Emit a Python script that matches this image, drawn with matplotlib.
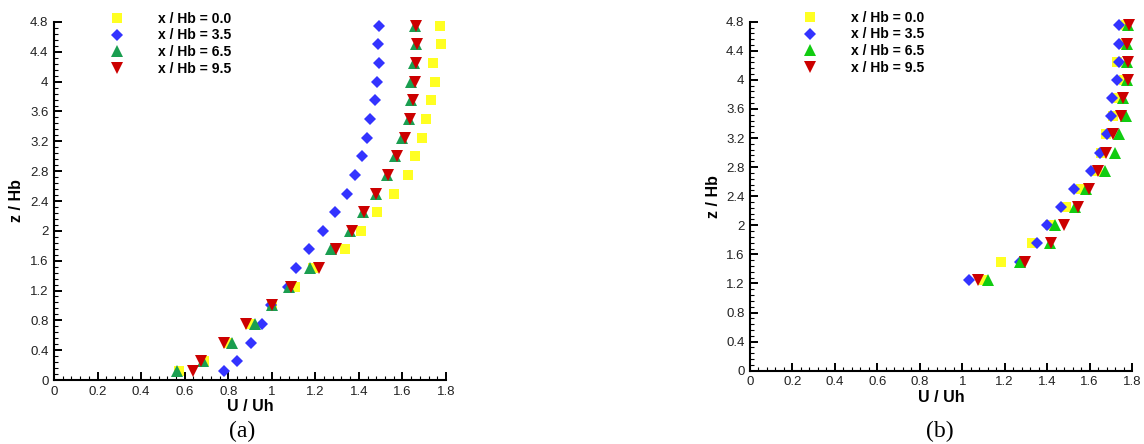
import matplotlib
matplotlib.use('Agg')
import matplotlib.pyplot as plt
from matplotlib.ticker import MultipleLocator, FormatStrFormatter

plt.rcParams['font.family'] = ['Liberation Sans', 'DejaVu Sans']

# Data
labels = ['x / Hb = 0.0', 'x / Hb = 3.5', 'x / Hb = 6.5', 'x / Hb = 9.5']

z_a = [0.125, 0.25, 0.5, 0.75, 1.0, 1.25, 1.5, 1.75, 2.0, 2.25,
       2.5, 2.75, 3.0, 3.25, 3.5, 3.75, 4.0, 4.25, 4.5, 4.75]
u_a_00 = [0.576, 0.689, 0.80, 0.90, 1.0, 1.105, 1.187, 1.335, 1.409, 1.482,
          1.562, 1.626, 1.657, 1.690, 1.707, 1.730, 1.749, 1.739, 1.776, 1.773]
u_a_35 = [0.781, 0.842, 0.903, 0.955, 0.997, 1.074, 1.109, 1.169, 1.236, 1.291,
          1.346, 1.384, 1.415, 1.435, 1.453, 1.476, 1.484, 1.491, 1.490, 1.494]
u_a_65 = [0.564, 0.686, 0.819, 0.922, 1.0, 1.081, 1.175, 1.272, 1.357, 1.421,
          1.479, 1.528, 1.566, 1.600, 1.631, 1.641, 1.638, 1.651, 1.662, 1.658]
u_a_95 = [0.637, 0.675, 0.781, 0.882, 1.0, 1.090, 1.219, 1.295, 1.367, 1.422,
          1.479, 1.534, 1.574, 1.611, 1.634, 1.648, 1.658, 1.663, 1.667, 1.663]

z_b = [1.25, 1.5, 1.75, 2.0, 2.25, 2.5, 2.75, 3.0, 3.25, 3.5,
       3.75, 4.0, 4.25, 4.5, 4.75]
u_b_00 = [1.100, 1.184, 1.327, 1.415, 1.489, 1.558, 1.635, 1.652, 1.677, 1.712,
          1.728, 1.760, 1.728, 1.765, 1.770]
u_b_35 = [1.032, 1.272, 1.351, 1.401, 1.466, 1.527, 1.609, 1.649, 1.684, 1.700,
          1.706, 1.730, 1.740, 1.739, 1.740]
u_b_65 = [1.120, 1.270, 1.414, 1.436, 1.532, 1.582, 1.671, 1.719, 1.740, 1.772,
          1.757, 1.778, 1.778, 1.775, 1.780]
u_b_95 = [1.076, 1.298, 1.417, 1.480, 1.544, 1.598, 1.642, 1.676, 1.712, 1.747,
          1.756, 1.783, 1.783, 1.778, 1.786]

W, H = 1144, 444
fig = plt.figure(figsize=(W / 100, H / 100), dpi=100)

def px_axes(x0, x1, y0, y1):
    # y0 top, y1 bottom in pixel rows
    return fig.add_axes([x0 / W, (H - y1) / H, (x1 - x0) / W, (y1 - y0) / H])

ax_a = px_axes(54, 446, 22, 380)
ax_b = px_axes(750, 1132, 21.7, 370.7)

markers = ['s', 'D', '^', 'v']
sizes = [7.4, 6.4, 8.4, 8.4]
yellow, blue, red = '#FFFF22', '#3333FF', '#CC0000'

panels = [
    (ax_a, z_a, [u_a_00, u_a_35, u_a_65, u_a_95], '#1A9E50', 103, 11.6, '(a)', 242),
    (ax_b, z_b, [u_b_00, u_b_35, u_b_65, u_b_95], '#11CC11', 796, 10.6, '(b)', 940),
]

for ax, z, series, green, leg_x, leg_y, tag, tag_x in panels:
    colors = [yellow, blue, green, red]
    for u, m, ms, c, lab in zip(series, markers, sizes, colors, labels):
        ax.plot(u, z, linestyle='none', marker=m, markersize=ms, color=c,
                markeredgewidth=0, label=lab, clip_on=False)

    ax.set_xlim(0, 1.8)
    ax.set_ylim(0, 4.8)
    ax.xaxis.set_major_locator(MultipleLocator(0.2))
    ax.xaxis.set_minor_locator(MultipleLocator(0.04))
    ax.yaxis.set_major_locator(MultipleLocator(0.4))
    ax.yaxis.set_minor_locator(MultipleLocator(0.08))
    ax.xaxis.set_major_formatter(FormatStrFormatter('%g'))
    ax.yaxis.set_major_formatter(FormatStrFormatter('%g'))
    ax.tick_params(which='major', direction='in', length=6, width=1.4,
                   labelsize=9.5, labelcolor='#222222', pad=4)
    ax.tick_params(which='minor', direction='in', length=3, width=0.8)
    ax.spines['top'].set_visible(False)
    ax.spines['right'].set_visible(False)
    for s in ('left', 'bottom'):
        ax.spines[s].set_linewidth(1.5)

    ax.set_xlabel('U / Uh', fontsize=11.5, fontweight='bold')
    ax.set_ylabel('z / Hb', fontsize=11.5, fontweight='bold')
    ax.xaxis.set_label_coords(0.5, -0.054)
    ax.yaxis.set_label_coords(-0.077, 0.5)

    leg = ax.legend(loc='upper left', frameon=False, numpoints=1,
                    prop={'weight': 'bold', 'size': 10},
                    handlelength=2.0, handletextpad=1.95, labelspacing=0.2,
                    borderpad=0, borderaxespad=0)
    leg.set_bbox_to_anchor((leg_x / W, (H - leg_y) / H), transform=fig.transFigure)

    fig.text(tag_x / W, (H - 431) / H, tag, ha='center', va='center',
             fontsize=17, family=['Liberation Serif', 'DejaVu Serif'])

fig.savefig('out.png', dpi=100)
